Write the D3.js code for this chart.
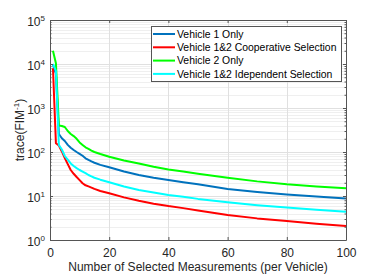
<!DOCTYPE html>
<html>
<head>
<meta charset="utf-8">
<script src="https://cdn.jsdelivr.net/npm/d3@7"></script>
<style>
  body { margin: 0; background: #fff; }
  svg { display: block; font-family: "Liberation Sans", Arial, sans-serif; }
</style>
</head>
<body>
<div id="chart"></div>
<script>
// number of selected measurements (per vehicle)
const measurements = [1, 2, 3, 4, 5, 6, 7, 8, 9, 10, 11, 12, 13, 14, 15, 17, 20, 25, 30, 35, 40, 45, 50, 60, 70, 80, 90, 100];

// trace(FIM^-1)
const vehicle1Only = [9500, 6000, 256, 205, 178, 145, 125, 111, 100, 91, 82, 72, 66, 61, 57, 51, 45, 36, 30, 26, 23, 20.5, 18.5, 14.4, 12.3, 10.8, 9.7, 8.8];
const cooperative = [8000, 158, 140, 103, 73, 53, 39, 32, 27, 23, 19.5, 17.5, 16.5, 15.5, 14.5, 13, 11.5, 9.3, 7.8, 6.7, 5.9, 5.3, 4.7, 3.7, 3.1, 2.7, 2.35, 2.08];
const vehicle2Only = [20000, 10400, 400, 390, 370, 300, 257, 230, 200, 165, 145, 128, 118, 108, 100, 90, 78, 64, 55, 46, 40, 36, 32, 26, 21.5, 18.5, 16.5, 15];
const independent = [10000, 7000, 144, 114, 81, 67, 55, 48, 43, 39, 36, 33, 30, 28, 26, 23.5, 20.5, 16.5, 13.7, 12, 10.5, 9.6, 8.6, 7.2, 6.2, 5.5, 4.9, 4.4];

const seriesNames = ["Vehicle 1 Only", "Vehicle 1&2 Cooperative Selection", "Vehicle 2 Only", "Vehicle 1&2 Idependent Selection"];
const seriesValues = [vehicle1Only, cooperative, vehicle2Only, independent];
const seriesColors = ["#0072bd", "#ff0000", "#00ff00", "#00ffff"];

const xTicks = [0, 20, 40, 60, 80, 100];
const yDecades = [0, 1, 2, 3, 4, 5];

const W = 382, H = 275;
const margin = { top: 20, right: 36, bottom: 35, left: 50 };
const width = W - margin.left - margin.right,
      height = H - margin.top - margin.bottom;

const svg = d3.select("#chart").append("svg")
    .attr("width", W)
    .attr("height", H);

const g = svg.append("g")
    .attr("transform", `translate(${margin.left},${margin.top})`);

const x = d3.scaleLinear().domain([0, 100]).range([0, width]);
const y = d3.scaleLog().domain([1, 1e5]).range([height, 0]);

// minor log values for grid and small ticks
const minorVals = [];
yDecades.slice(0, -1).forEach(k => {
    for (let m = 2; m <= 9; m++) minorVals.push(m * Math.pow(10, k));
});

// grid
g.append("g").selectAll("line.minor")
    .data(minorVals)
    .join("line")
    .attr("x1", 0).attr("x2", width)
    .attr("y1", d => Math.round(y(d)) + 0.5).attr("y2", d => Math.round(y(d)) + 0.5)
    .attr("stroke", "#efefef");

g.append("g").selectAll("line.major")
    .data(yDecades.map(k => Math.pow(10, k)))
    .join("line")
    .attr("x1", 0).attr("x2", width)
    .attr("y1", d => Math.round(y(d)) + 0.5).attr("y2", d => Math.round(y(d)) + 0.5)
    .attr("stroke", "#e0e0e0");

g.append("g").selectAll("line")
    .data(xTicks)
    .join("line")
    .attr("x1", d => Math.round(x(d)) + 0.5).attr("x2", d => Math.round(x(d)) + 0.5)
    .attr("y1", 0).attr("y2", height)
    .attr("stroke", "#e0e0e0");

// series
const line = d3.line()
    .x((d, i) => x(measurements[i]))
    .y(d => y(d));

seriesValues.forEach((vals, i) => {
    g.append("path")
        .datum(vals)
        .attr("fill", "none")
        .attr("stroke", seriesColors[i])
        .attr("stroke-width", 2)
        .attr("stroke-linejoin", "round")
        .attr("d", line);
});

// axes (ticks point inward, box on all sides)
const axisColor = "#555";
const xAxisBottom = g.append("g")
    .attr("transform", `translate(0,${height})`)
    .call(d3.axisBottom(x).tickValues(xTicks).tickSizeInner(-3).tickSizeOuter(0).tickPadding(8));
g.append("g")
    .call(d3.axisTop(x).tickValues(xTicks).tickSizeInner(-3).tickSizeOuter(0).tickFormat(""));

g.append("g")
    .call(d3.axisLeft(y).tickValues(yDecades.map(k => Math.pow(10, k))).tickSizeInner(-3).tickSizeOuter(0).tickFormat(""));
g.append("g")
    .attr("transform", `translate(${width},0)`)
    .call(d3.axisRight(y).tickValues(yDecades.map(k => Math.pow(10, k))).tickSizeInner(-3).tickSizeOuter(0).tickFormat(""));

g.append("g")
    .call(d3.axisLeft(y).tickValues(minorVals).tickSizeInner(-1.5).tickSizeOuter(0).tickFormat(""))
    .call(a => a.select(".domain").remove());
g.append("g")
    .attr("transform", `translate(${width},0)`)
    .call(d3.axisRight(y).tickValues(minorVals).tickSizeInner(-1.5).tickSizeOuter(0).tickFormat(""))
    .call(a => a.select(".domain").remove());

svg.selectAll(".domain, .tick line").attr("stroke", axisColor);
xAxisBottom.selectAll("text").attr("font-size", 12).attr("fill", "#262626");

// y tick labels as 10^k
const yLabels = svg.append("g").attr("fill", "#262626");
yDecades.forEach(k => {
    const t = yLabels.append("text")
        .attr("x", margin.left - 5)
        .attr("y", margin.top + y(Math.pow(10, k)) + 6)
        .attr("text-anchor", "end");
    t.append("tspan").attr("font-size", 12).text("10");
    t.append("tspan").attr("font-size", 8).attr("dy", -5).text(k);
});

// axis titles
svg.append("text")
    .attr("x", margin.left + width / 2)
    .attr("y", 271)
    .attr("text-anchor", "middle")
    .attr("font-size", 12)
    .attr("fill", "#262626")
    .text("Number of Selected Measurements (per Vehicle)");

const yTitle = svg.append("text")
    .attr("transform", `translate(24,${margin.top + height / 2}) rotate(-90)`)
    .attr("text-anchor", "middle")
    .attr("font-size", 12)
    .attr("fill", "#262626");
yTitle.append("tspan").text("trace(FIM");
yTitle.append("tspan").attr("font-size", 8).attr("dy", -5).text("-1");
yTitle.append("tspan").attr("dy", 5).text(")");

// legend
const legend = svg.append("g").attr("transform", "translate(151,26)");
legend.append("rect")
    .attr("x", 0.5).attr("y", 0.5)
    .attr("width", 190).attr("height", 55)
    .attr("fill", "#fff")
    .attr("stroke", axisColor);

seriesNames.forEach((name, i) => {
    const row = legend.append("g").attr("transform", `translate(0,${8 + i * 13.3})`);
    row.append("line")
        .attr("x1", 2).attr("x2", 24)
        .attr("stroke", seriesColors[i])
        .attr("stroke-width", 2);
    row.append("text")
        .attr("x", 26)
        .attr("y", 3.7)
        .attr("font-size", 10.4)
        .attr("fill", "#000")
        .text(name);
});
</script>
</body>
</html>
